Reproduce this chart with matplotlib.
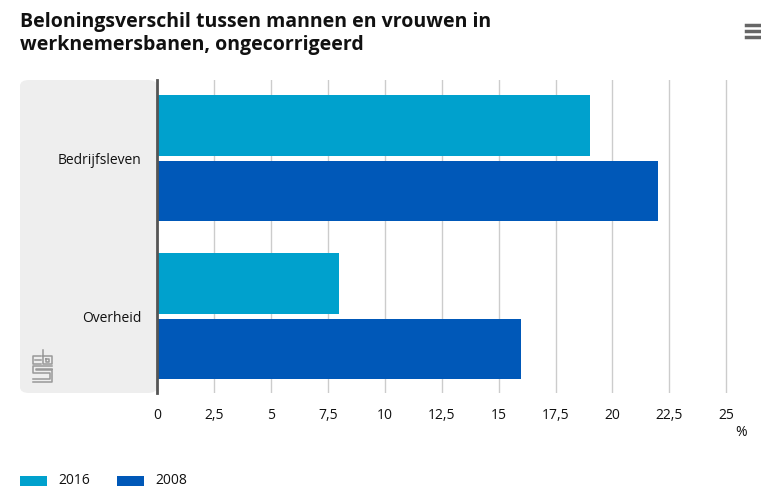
import numpy as np
import matplotlib.pyplot as plt
from matplotlib.patches import FancyBboxPatch, Rectangle
from matplotlib.lines import Line2D

categories = ['Bedrijfsleven', 'Overheid']
series_names = ['2016', '2008']
values_2016 = [19, 8]
values_2008 = [22, 16]
ticks = [0, 2.5, 5, 7.5, 10, 12.5, 15, 17.5, 20, 22.5, 25]
tick_labels = ['0', '2,5', '5', '7,5', '10', '12,5', '15', '17,5', '20', '22,5', '25']

c2016 = '#00a1cd'
c2008 = '#0058b8'

W, H = 761, 503
fig = plt.figure(figsize=(W / 100, H / 100), dpi=100)
plt.rcParams['font.family'] = ['Open Sans', 'DejaVu Sans']


def fx(px):
    return px / W


def fy(py):
    return 1 - py / H


# grey label panel
panel = FancyBboxPatch((fx(20), fy(393)), fx(157) - fx(20), fy(80) - fy(393),
                       boxstyle='round,pad=0,rounding_size=0.012',
                       transform=fig.transFigure, facecolor='#eeeeee',
                       edgecolor='none', zorder=0)
fig.patches.append(panel)

ax = fig.add_axes([fx(157), fy(393), fx(740) - fx(157), fy(80) - fy(393)])
ax.set_zorder(2)
ax.set_facecolor('none')

y = np.arange(len(categories))
h = 0.38
off = 0.206
ax.barh(y - off, values_2016, height=h, color=c2016, label=series_names[0], zorder=3)
ax.barh(y + off, values_2008, height=h, color=c2008, label=series_names[1], zorder=3)

ax.set_xlim(0, 25.6)
ax.set_ylim(1.487, -0.494)
ax.set_xticks(ticks)
ax.set_xticklabels(tick_labels, fontsize=10, color='#111111')
ax.set_yticks(y)
ax.set_yticklabels(categories, fontsize=10, color='#111111')
ax.tick_params(axis='x', length=0, pad=11)
ax.tick_params(axis='y', length=0, pad=11)
ax.grid(axis='x', color='#cccccc', linewidth=1, zorder=0)
for s in ['top', 'right', 'bottom']:
    ax.spines[s].set_visible(False)
ax.spines['left'].set_color('#555555')
ax.spines['left'].set_linewidth(2)
ax.spines['left'].set_zorder(4)

fig.text(fx(741), fy(433), '%', fontsize=10, ha='center', va='center', color='#111111')

# title
fig.text(fx(20), fy(22), 'Beloningsverschil tussen mannen en vrouwen in',
         fontsize=14, fontweight='bold', ha='left', va='center', color='#111111')
fig.text(fx(20), fy(45), 'werknemersbanen, ongecorrigeerd',
         fontsize=14, fontweight='bold', ha='left', va='center', color='#111111')

# menu icon
for py in [25, 31, 37]:
    fig.lines.append(Line2D([fx(746), fx(761)], [fy(py), fy(py)], color='#666666',
                            linewidth=2.5, transform=fig.transFigure))

# cbs logo (simple outline)
lc = '#999999'
def seg(xs, ys):
    fig.lines.append(Line2D([fx(v) for v in xs], [fy(v) for v in ys], color=lc,
                            linewidth=1.1, transform=fig.transFigure))
seg([41, 33, 33, 41], [356, 356, 364, 364])
seg([35, 41], [360, 360])
seg([43, 43, 52, 52, 43], [350, 364, 364, 356, 356])
seg([46, 49, 49, 46, 46], [359, 359, 362, 362, 359])
seg([52, 33, 33, 50, 50, 33], [366, 366, 373, 373, 379, 379])
seg([52, 36, 36, 52, 52, 33], [369, 369, 370, 370, 382, 382])

# legend
for lx, name, col in [(20, series_names[0], c2016), (117, series_names[1], c2008)]:
    fig.patches.append(Rectangle((fx(lx), fy(486)), fx(27), fy(476) - fy(486),
                                 transform=fig.transFigure, facecolor=col, edgecolor='none'))
    fig.text(fx(lx + 38), fy(481), name, fontsize=10, ha='left', va='center', color='#111111')

fig.savefig('out.png', dpi=100)
